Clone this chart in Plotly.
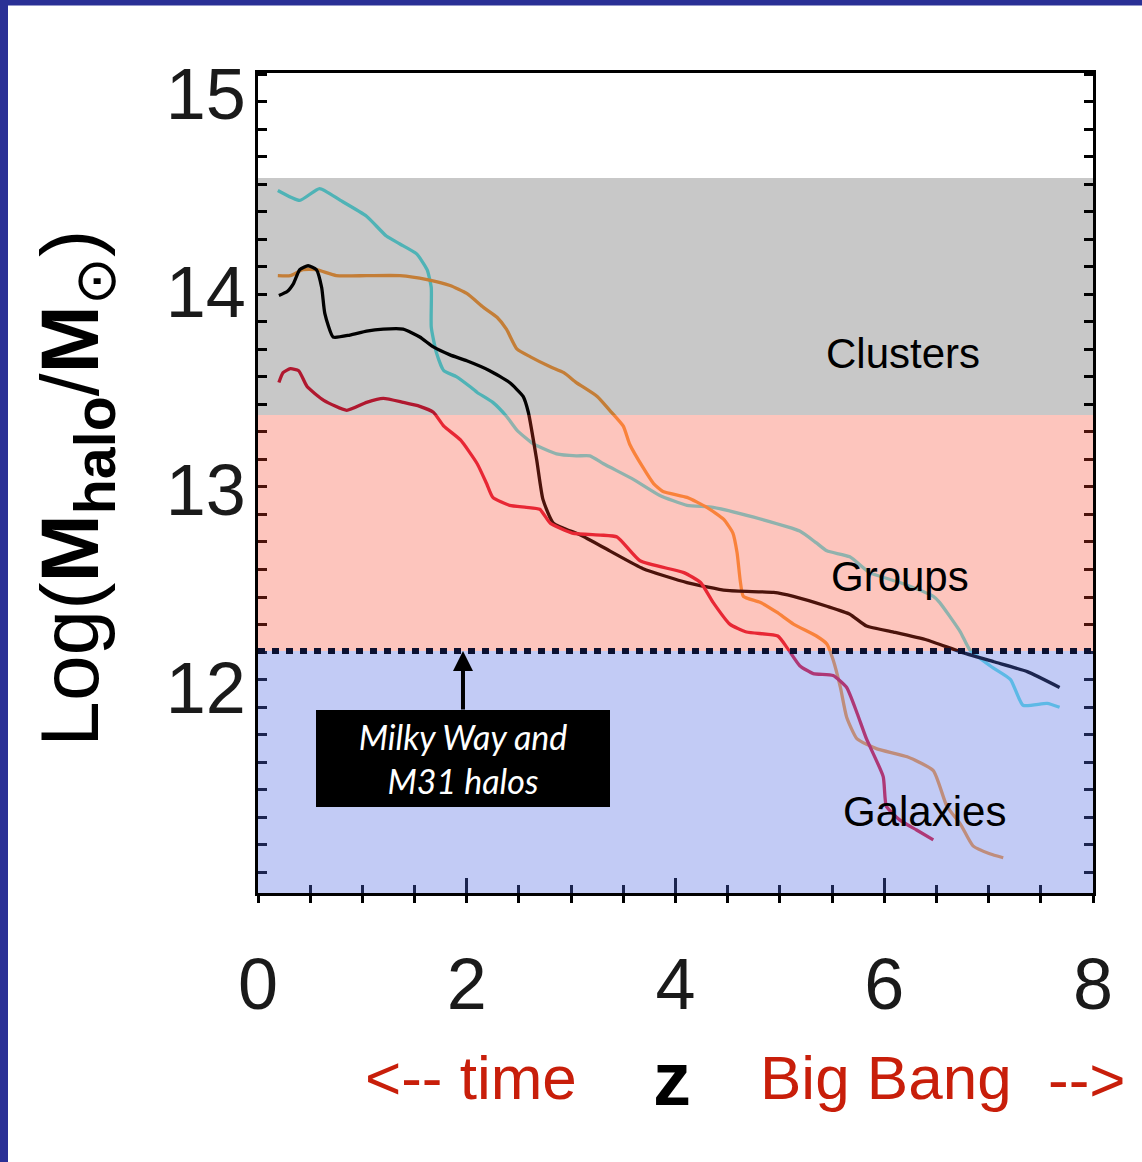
import plotly.graph_objects as go

# ---------------- data ----------------
cyan_z = [0.19, 0.40, 0.59, 0.79, 1.04, 1.23, 1.36, 1.52, 1.62, 1.66, 1.66, 1.71, 1.78, 1.90, 2.03, 2.10,
          2.25, 2.38, 2.48, 2.64, 2.86, 3.05, 3.18, 3.31, 3.60, 3.85, 4.11, 4.36, 4.75, 5.19, 5.35, 5.45,
          5.67, 5.86, 6.15, 6.47, 6.53, 6.73, 6.82, 7.04, 7.21, 7.33, 7.56, 7.68]
cyan_m = [14.51, 14.46, 14.52, 14.46, 14.38, 14.28, 14.24, 14.19, 14.11, 14.02, 13.82, 13.69, 13.60, 13.57,
          13.52, 13.49, 13.44, 13.37, 13.30, 13.23, 13.18, 13.17, 13.17, 13.13, 13.05, 12.97, 12.92, 12.91,
          12.86, 12.79, 12.73, 12.69, 12.66, 12.58, 12.53, 12.46, 12.43, 12.28, 12.19, 12.10, 12.04, 11.91,
          11.92, 11.90]

black_z = [0.20, 0.28, 0.34, 0.40, 0.48, 0.56, 0.61, 0.64, 0.72, 0.88, 1.04, 1.20, 1.39, 1.55, 1.68, 1.84,
           2.00, 2.22, 2.41, 2.54, 2.59, 2.67, 2.73, 2.83, 3.09, 3.37, 3.69, 4.11, 4.49, 4.94, 5.13, 5.45,
           5.67, 5.83, 6.09, 6.41, 6.73, 7.05, 7.37, 7.68]
black_m = [13.98, 14.00, 14.04, 14.11, 14.13, 14.11, 14.02, 13.89, 13.77, 13.78, 13.80, 13.81, 13.81, 13.77,
           13.72, 13.68, 13.65, 13.60, 13.54, 13.47, 13.39, 13.15, 12.95, 12.83, 12.77, 12.69, 12.60, 12.53,
           12.49, 12.48, 12.46, 12.41, 12.37, 12.31, 12.28, 12.24, 12.18, 12.13, 12.08, 12.00]

orange_z = [0.19, 0.31, 0.43, 0.56, 0.75, 1.04, 1.36, 1.62, 1.84, 2.00, 2.16, 2.29, 2.38, 2.48, 2.61, 2.80,
            2.93, 3.05, 3.25, 3.37, 3.50, 3.56, 3.69, 3.79, 3.88, 4.11, 4.30, 4.46, 4.55, 4.59, 4.62, 4.65,
            4.81, 4.97, 5.13, 5.35, 5.45, 5.51, 5.58, 5.64, 5.74, 5.93, 6.22, 6.47, 6.60, 6.73, 6.85, 7.01, 7.14]
orange_m = [14.08, 14.08, 14.11, 14.11, 14.08, 14.08, 14.08, 14.06, 14.03, 13.99, 13.92, 13.87, 13.81, 13.71,
            13.67, 13.62, 13.59, 13.54, 13.47, 13.40, 13.32, 13.23, 13.11, 13.03, 12.99, 12.96, 12.91, 12.85,
            12.78, 12.68, 12.54, 12.46, 12.43, 12.38, 12.32, 12.26, 12.22, 12.14, 12.00, 11.85, 11.74, 11.69,
            11.65, 11.58, 11.40, 11.31, 11.20, 11.16, 11.14]

red_z = [0.20, 0.24, 0.31, 0.39, 0.47, 0.63, 0.85, 1.04, 1.20, 1.39, 1.55, 1.68, 1.78, 1.94, 2.10, 2.19,
         2.25, 2.41, 2.57, 2.70, 2.80, 3.01, 3.28, 3.44, 3.66, 4.08, 4.24, 4.36, 4.52, 4.68, 4.98, 5.07,
         5.19, 5.32, 5.51, 5.64, 5.74, 5.83, 5.99, 6.02, 6.15, 6.31, 6.47]
red_m = [13.54, 13.59, 13.61, 13.60, 13.52, 13.45, 13.40, 13.44, 13.46, 13.44, 13.42, 13.39, 13.32, 13.25,
         13.13, 13.03, 12.96, 12.92, 12.91, 12.90, 12.83, 12.78, 12.77, 12.76, 12.64, 12.58, 12.53, 12.43,
         12.32, 12.28, 12.26, 12.20, 12.11, 12.07, 12.06, 12.00, 11.87, 11.74, 11.55, 11.40, 11.33, 11.28, 11.23]

# mass bands (log M)
galaxies_band = [10.962, 12.184]
groups_band = [12.184, 13.376]
clusters_band = [13.376, 14.573]
milky_way_level = 12.184

x_ticks = [0, 2, 4, 6, 8]
y_ticks = [12, 13, 14, 15]
x_range = [0, 8]
y_range = [10.962, 15.1035]

# ---------------- figure ----------------
fig = go.Figure()

series = [
    (cyan_z, cyan_m, "rgb(100,228,232)"),
    (orange_z, orange_m, "rgb(250,160,70)"),
    (black_z, black_m, "rgb(0,0,0)"),
    (red_z, red_m, "rgb(225,30,60)"),
]
for zs, ms, col in series:
    fig.add_trace(go.Scatter(x=zs, y=ms, mode="lines",
                             line=dict(color=col, width=3.3, shape="spline", smoothing=0.5),
                             showlegend=False, hoverinfo="skip"))

# dummy trace to carry the outward tick axis
fig.add_trace(go.Scatter(x=[None], y=[None], xaxis="x2", yaxis="y", showlegend=False, hoverinfo="skip"))

# translucent mass bands drawn over the curves
band_specs = [
    (clusters_band, "rgba(5,5,5,0.22)"),
    (groups_band, "rgba(248,62,35,0.30)"),
    (galaxies_band, "rgba(81,106,226,0.35)"),
]
for (lo, hi), fill in band_specs:
    fig.add_shape(type="rect", xref="x domain", yref="y", x0=0, x1=1, y0=lo, y1=hi,
                  fillcolor=fill, line=dict(width=0), layer="above")

fig.add_shape(type="line", xref="x domain", yref="y", x0=0, x1=1,
              y0=milky_way_level, y1=milky_way_level,
              line=dict(color="#0b1030", width=6, dash="7px,7px"), layer="above")

# dark slide border strips
border = "rgb(42,48,150)"
fig.add_shape(type="rect", xref="paper", yref="paper", x0=-0.32, x1=-0.2994, y0=-0.40, y1=1.20,
              fillcolor=border, line=dict(width=0), layer="above")
fig.add_shape(type="rect", xref="paper", yref="paper", x0=-0.32, x1=1.10, y0=1.0823, y1=1.20,
              fillcolor=border, line=dict(width=0), layer="above")

base_font = "Liberation Sans, Arial, sans-serif"
red_txt = "#c81e0a"

annots = [
    dict(text="Clusters", x=0.7725, y=0.6585, size=42),
    dict(text="Groups", x=0.7689, y=0.3854, size=42),
    dict(text="Galaxies", x=0.7988, y=0.0988, size=42),
]
for a in annots:
    fig.add_annotation(text=a["text"], xref="paper", yref="paper", x=a["x"], y=a["y"],
                       xanchor="center", yanchor="middle", showarrow=False,
                       font=dict(family=base_font, size=a["size"], color="black"))

fig.add_annotation(text="Log(<b>M</b><sub><b>halo</b></sub>/<b>M</b><sub>⊙</sub>)",
                   xref="paper", yref="paper",
                   x=-0.219, y=0.4933, xanchor="center", yanchor="middle", textangle=-90,
                   showarrow=False, font=dict(family=base_font, size=82, color="black"))

fig.add_annotation(text="z", xref="paper", yref="paper", x=0.4958, y=-0.2268,
                   xanchor="center", yanchor="middle", showarrow=False,
                   font=dict(family=base_font, size=76, color="black", weight="bold"))
fig.add_annotation(text="<-- time", xref="paper", yref="paper", x=0.2551, y=-0.2256,
                   xanchor="center", yanchor="middle", showarrow=False,
                   font=dict(family=base_font, size=62, color=red_txt))
fig.add_annotation(text="Big Bang", xref="paper", yref="paper", x=0.7521, y=-0.2256,
                   xanchor="center", yanchor="middle", showarrow=False,
                   font=dict(family=base_font, size=62, color=red_txt))
fig.add_annotation(text="-->", xref="paper", yref="paper", x=0.9928, y=-0.228,
                   xanchor="center", yanchor="middle", showarrow=False,
                   font=dict(family=base_font, size=62, color=red_txt))

fig.add_annotation(text="Milky Way and<br>M31 halos", x=1.964, y=milky_way_level, xref="x", yref="y",
                   showarrow=True, arrowhead=2, arrowsize=1, arrowwidth=4, arrowcolor="black",
                   ax=0, ay=107, standoff=0,
                   bgcolor="black", borderpad=0, borderwidth=0, width=294, height=97,
                   font=dict(family="Lato, Open Sans, sans-serif", size=34, color="white", style="italic"))

fig.update_layout(
    width=1142, height=1162,
    margin=dict(l=258, r=49, t=73, b=269),
    paper_bgcolor="white", plot_bgcolor="white",
    showlegend=False,
    xaxis=dict(range=x_range, tickmode="array", tickvals=x_ticks,
               showline=True, linecolor="black", linewidth=3, mirror=True,
               ticks="inside", ticklen=15, tickwidth=2.5, tickcolor="black",
               minor=dict(ticks="inside", ticklen=8, tickwidth=2.5, tickcolor="black", dtick=0.5, tick0=0),
               showgrid=False, zeroline=False,
               tickfont=dict(family=base_font, size=72, color="#1a1a1a"),
               ticklabelstandoff=27),
    xaxis2=dict(range=x_range, overlaying="x", anchor="y", side="bottom",
                tickmode="linear", tick0=0, dtick=0.5, ticks="outside", ticklen=9, tickwidth=2.5,
                tickcolor="black", showticklabels=False, showline=False, showgrid=False, zeroline=False),
    yaxis=dict(range=y_range, tickmode="array", tickvals=y_ticks,
               showline=True, linecolor="black", linewidth=2.5, mirror="ticks",
               ticks="",
               minor=dict(ticks="inside", ticklen=9, tickwidth=2.5, tickcolor="black",
                          tickmode="linear", tick0=11.068, dtick=0.1389),
               showgrid=False, zeroline=False,
               tickfont=dict(family=base_font, size=72, color="#1a1a1a"),
               ticklabelstandoff=-5),
)

fig.write_html("out.html")
